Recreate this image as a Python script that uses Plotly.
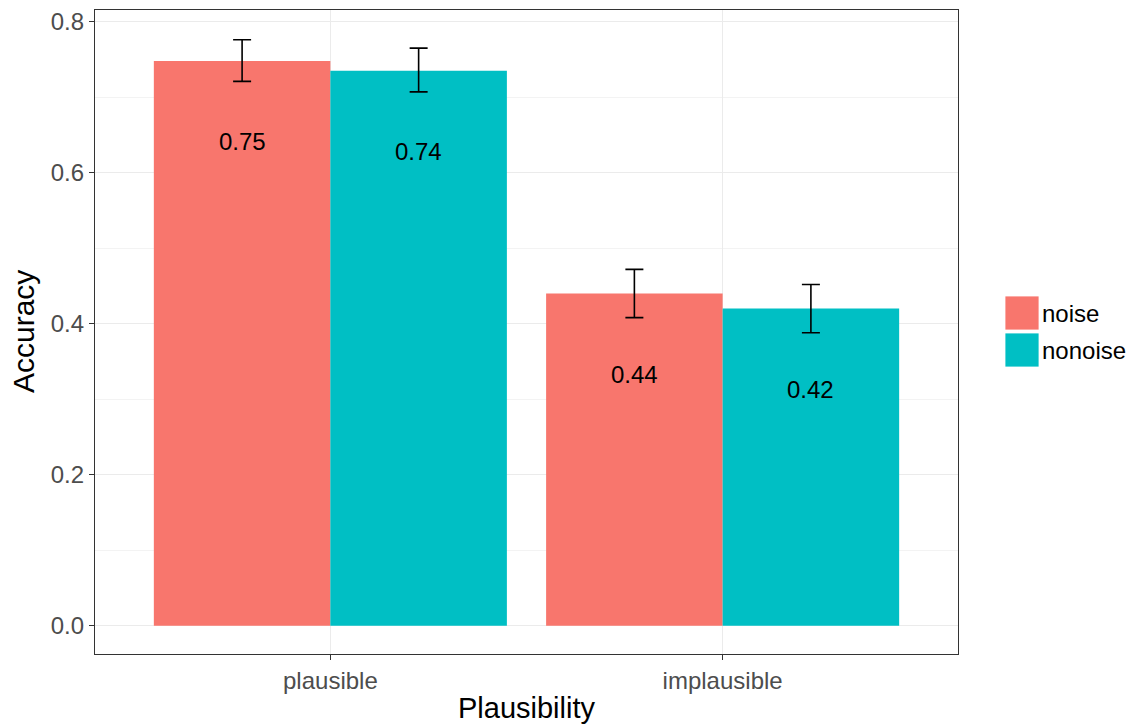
import plotly.graph_objects as go

categories = ["plausible", "implausible"]
series_names = ["noise", "nonoise"]
noise_vals = [0.748, 0.440]
nonoise_vals = [0.735, 0.420]
noise_err_hi = [0.028, 0.032]
noise_err_lo = [0.027, 0.032]
nonoise_err_hi = [0.030, 0.032]
nonoise_err_lo = [0.028, 0.032]
label_text_noise = ["0.75", "0.44"]
label_text_nonoise = ["0.74", "0.42"]
y_ticks = [0.0, 0.2, 0.4, 0.6, 0.8]
y_tick_labels = ["0.0", "0.2", "0.4", "0.6", "0.8"]
x_title = "Plausibility"
y_title = "Accuracy"

colors = ["#F8766D", "#00BFC4"]
FONT = "Liberation Sans, Arial, Helvetica, sans-serif"

fig = go.Figure()
series = [
    (series_names[0], noise_vals, noise_err_hi, noise_err_lo, label_text_noise, colors[0], -88),
    (series_names[1], nonoise_vals, nonoise_err_hi, nonoise_err_lo, label_text_nonoise, colors[1], 88),
]
for name, vals, ehi, elo, labels, col, shift in series:
    fig.add_trace(go.Bar(
        x=categories, y=vals, name=name, marker=dict(color=col, line=dict(width=0)),
        error_y=dict(type="data", array=ehi, arrayminus=elo, symmetric=False,
                     color="black", thickness=1.6, width=9),
        showlegend=False,
    ))
    for c, v, t in zip(categories, vals, labels):
        fig.add_annotation(x=c, y=v, text=t, xref="x", yref="y", showarrow=False,
                           xshift=shift, yshift=-81, yanchor="middle",
                           font=dict(family=FONT, size=24, color="black"))

# manual legend (ggplot style large keys)
plot_top, plot_bot, plot_left, plot_w = 10, 654, 95, 863
ph = plot_bot - plot_top
def px_x(x):
    return (x - plot_left) / plot_w
def px_y(y):
    return (plot_bot - y) / ph
key_tops = [296, 333]
for name, col, kt in zip(series_names, colors, key_tops):
    fig.add_shape(type="rect", xref="paper", yref="paper",
                  x0=px_x(1005), x1=px_x(1039), y0=px_y(kt + 34), y1=px_y(kt),
                  fillcolor=col, line=dict(width=0.8, color="white"))
    fig.add_annotation(xref="paper", yref="paper", x=px_x(1040), y=px_y(kt + 17),
                       text=name, showarrow=False, xanchor="left", yanchor="middle",
                       font=dict(family=FONT, size=24, color="black"))

# axis titles
fig.add_annotation(xref="paper", yref="paper", x=0.5, y=px_y(690), text=x_title,
                   showarrow=False, xanchor="center", yanchor="top",
                   font=dict(family=FONT, size=29, color="black"))
fig.add_annotation(xref="paper", yref="paper", x=px_x(23), y=0.5, text=y_title,
                   showarrow=False, xanchor="center", yanchor="middle", textangle=-90,
                   font=dict(family=FONT, size=30, color="black"))

fig.update_layout(
    width=1128, height=726,
    margin=dict(l=95, r=170, t=10, b=72),
    paper_bgcolor="white", plot_bgcolor="white",
    barmode="group", bargap=0.1, bargroupgap=0,
    font=dict(family=FONT),
    showlegend=False,
)
fig.update_xaxes(
    range=[-0.6, 1.6], showgrid=True, gridcolor="#EBEBEB", gridwidth=1.2,
    ticks="outside", ticklen=5, tickwidth=1.2, tickcolor="#333333",
    tickfont=dict(family=FONT, size=24, color="#4D4D4D"),
    showline=True, linecolor="#333333", linewidth=1.2, mirror=True, zeroline=False,
    automargin=False,
)
fig.update_yaxes(
    range=[-0.0375, 0.8155], tickvals=y_ticks, ticktext=y_tick_labels,
    showgrid=True, gridcolor="#EBEBEB", gridwidth=1.2,
    minor=dict(tickvals=[0.1, 0.3, 0.5, 0.7], showgrid=True, gridcolor="#F3F3F3", gridwidth=0.8, ticks=""),
    ticks="outside", ticklen=5, tickwidth=1.2, tickcolor="#333333",
    tickfont=dict(family=FONT, size=24, color="#4D4D4D"),
    showline=True, linecolor="#333333", linewidth=1.2, mirror=True, zeroline=False,
    automargin=False,
)

fig.write_html("out.html")
